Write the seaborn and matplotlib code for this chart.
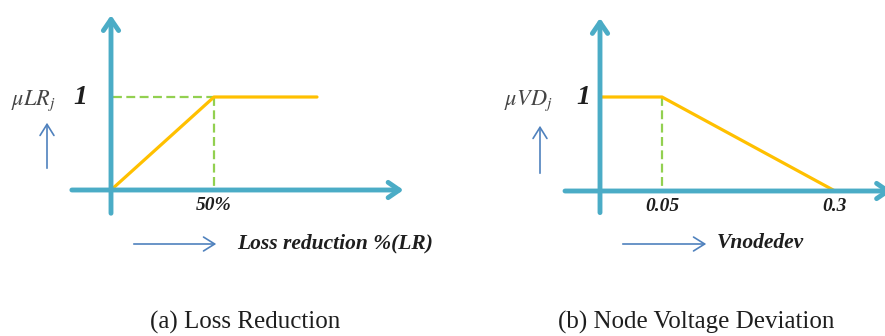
import numpy as np
import pandas as pd
import seaborn as sns
import matplotlib
matplotlib.use("Agg")
import matplotlib.pyplot as plt

# data: membership functions (break points)
lr_x = [0, 50, 100]          # loss reduction %
lr_mu = [0, 1, 1]
vd_x = [0, 0.05, 0.3]        # node voltage deviation
vd_mu = [1, 1, 0]
lr_ticks = [50]
lr_ticklabels = ["50%"]
vd_ticks = [0.05, 0.3]
vd_ticklabels = ["0.05", "0.3"]

sns.set_style("white")
plt.rcParams["font.family"] = ["Liberation Serif", "DejaVu Serif"]
plt.rcParams["mathtext.fontset"] = "stix"

W, H = 885, 336
TEAL = "#4BACC6"
YEL = "#FFC000"
GRN = "#92D050"
BLUE = "#4F81BD"
INK = "#1e1e1e"

fig = plt.figure(figsize=(W / 100, H / 100), dpi=100)


def fx(px):
    return px / W


def fy(py):
    return 1 - py / H


def arrow(ax, x0, y0, x1, y1):
    ax.annotate("", xy=(x1, y1), xytext=(x0, y0), annotation_clip=False,
                arrowprops=dict(arrowstyle="->,head_length=0.8,head_width=0.55",
                                color=TEAL, lw=3.5, shrinkA=0, shrinkB=0))


# ---- (a) loss reduction ----
ax1 = fig.add_axes([fx(60), fy(230), fx(380), 225 / H])
df1 = pd.DataFrame({"x": lr_x, "mu": lr_mu})
ax1.plot([1, 50], [1, 1], color=GRN, lw=1.6, dashes=(4, 2))
ax1.plot([50, 50], [1, 0], color=GRN, lw=1.6, dashes=(4, 2))
sns.lineplot(data=df1, x="x", y="mu", ax=ax1, color=YEL, lw=2.3, zorder=3)
ax1.set_xlim((60 - 111) / 2.06, (440 - 111) / 2.06)
ax1.set_ylim((190 - 230) / 93, (190 - 5) / 93)
arrow(ax1, -19, 0, 142, 0)
arrow(ax1, 0, -0.25, 0, 1.88)
for t, lab in zip(lr_ticks, lr_ticklabels):
    ax1.text(t, -0.07, lab, ha="center", va="top", fontsize=14,
             fontweight="bold", style="italic", color=INK)
ax1.text(-15, 1, "1", ha="center", va="center", fontsize=20,
         fontweight="bold", style="italic", color=INK)
ax1.axis("off")

# ---- (b) node voltage deviation (schematic, non-proportional axis) ----
def fwd(x):
    x = np.asarray(x, dtype=float)
    return np.where(x < 0.05, x * 62 / 0.05, 62 + (x - 0.05) * 173 / 0.25)


def inv(u):
    u = np.asarray(u, dtype=float)
    return np.where(u < 62, u * 0.05 / 62, 0.05 + (u - 62) * 0.25 / 173)


ax2 = fig.add_axes([fx(540), fy(230), fx(345), 225 / H])
ax2.set_xscale("function", functions=(fwd, inv))
df2 = pd.DataFrame({"x": vd_x, "mu": vd_mu})
ax2.plot([0.05, 0.05], [1, 0], color=GRN, lw=1.6, dashes=(4, 2))
sns.lineplot(data=df2, x="x", y="mu", ax=ax2, color=YEL, lw=2.3, zorder=3)
ax2.set_xlim(float(inv(-60)), float(inv(285)))
ax2.set_ylim((191 - 230) / 94, (191 - 5) / 94)
arrow(ax2, float(inv(-35)), 0, float(inv(292)), 0)
arrow(ax2, 0, -0.23, 0, 1.84)
for t, lab in zip(vd_ticks, vd_ticklabels):
    ax2.text(t, -0.07, lab, ha="center", va="top", fontsize=14,
             fontweight="bold", style="italic", color=INK)
ax2.text(float(inv(-17)), 1, "1", ha="center", va="center", fontsize=20,
         fontweight="bold", style="italic", color=INK)
ax2.axis("off")

# ---- labels and thin blue arrows ----
fig.text(fx(33), fy(101), r"$\mu LR_j$", ha="center", va="center",
         fontsize=16, color="#444444")
fig.text(fx(528), fy(101), r"$\mu VD_j$", ha="center", va="center",
         fontsize=16, color="#444444")


def thin_arrow(p0, p1):
    fig.add_artist(matplotlib.patches.FancyArrowPatch(
        (fx(p0[0]), fy(p0[1])), (fx(p1[0]), fy(p1[1])), transform=fig.transFigure,
        arrowstyle="->,head_length=8,head_width=5", color=BLUE, lw=1.2))


thin_arrow((47, 171), (47, 120))
thin_arrow((540, 176), (540, 123))
thin_arrow((131, 244), (219, 244))
thin_arrow((620, 244), (709, 244))

fig.text(fx(237), fy(243), "Loss reduction %(LR)", ha="left", va="center",
         fontsize=15.5, fontweight="bold", style="italic", color=INK)
fig.text(fx(717), fy(243), "Vnodedev", ha="left", va="center",
         fontsize=15.5, fontweight="bold", style="italic", color=INK)

fig.text(fx(245), fy(322), "(a) Loss Reduction", ha="center", va="center",
         fontsize=18, color=INK)
fig.text(fx(696), fy(322), "(b) Node Voltage Deviation", ha="center", va="center",
         fontsize=18, color=INK)

fig.savefig("out.png", dpi=100)
